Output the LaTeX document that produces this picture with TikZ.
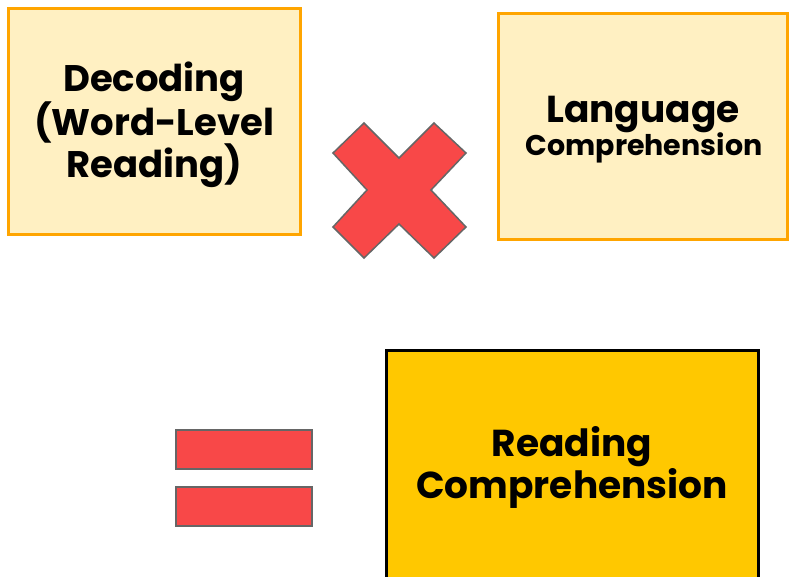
\documentclass[tikz,border=0pt]{standalone}
\usepackage{fontspec}
\setmainfont{Poppins}
\definecolor{lightfill}{HTML}{FFF0C2}
\definecolor{orangeline}{HTML}{FFA500}
\definecolor{crossred}{HTML}{F84848}
\definecolor{shapegray}{HTML}{666666}
\definecolor{goldfill}{HTML}{FFC800}
\tikzset{
  termbox/.style={draw=orangeline, fill=lightfill, line width=3pt, inner sep=0pt},
  resultbox/.style={draw=black, fill=goldfill, line width=3pt, inner sep=0pt},
  txt/.style={anchor=base, font=\bfseries, text=black, inner sep=0pt},
  bigtxt/.style={txt, font=\bfseries\fontsize{37}{43}\selectfont},
  redshape/.style={fill=crossred, draw=shapegray, line width=1.5pt, line join=miter}
}
\begin{document}
\begin{tikzpicture}[x=1pt, y=-1pt]
\useasboundingbox (0,0) rectangle (789,576);
\fill[white] (0,0) rectangle (789,576);
\begin{scope}
\clip (0,0) rectangle (789,576);
% boxes
\draw[termbox] (8,8) rectangle (300,234);
\draw[termbox] (498,13) rectangle (787,239);
\draw[resultbox] (386,350) rectangle (758,590);
\end{scope}
% texts
\node[bigtxt] (dec1) at (154,91) {Decoding};
\node[bigtxt] (dec2) at (154,135) {(Word-Level};
\node[bigtxt] (dec3) at (154,177) {Reading)};
\node[txt, font=\bfseries\fontsize{37.5}{43}\selectfont] (lang1) at (643,122) {Language};
\node[txt, font=\bfseries\fontsize{28.5}{34}\selectfont] (lang2) at (644,155) {Comprehension};
\node[bigtxt, font=\bfseries\fontsize{37.5}{43}\selectfont] (rc1) at (572,456) {Reading};
\node[bigtxt, font=\bfseries\fontsize{37.5}{43}\selectfont] (rc2) at (572,498) {Comprehension};
% multiplication cross
\draw[redshape] (333,153) -- (364,123) -- (399,158) -- (434,123) -- (466,153) -- (431,190)
  -- (466,227) -- (434,258) -- (399,224) -- (364,258) -- (333,227) -- (367,190) -- cycle;
% equals sign
\draw[redshape] (176,430) rectangle (312,469);
\draw[redshape] (176,487) rectangle (312,526);
\end{tikzpicture}
\end{document}
